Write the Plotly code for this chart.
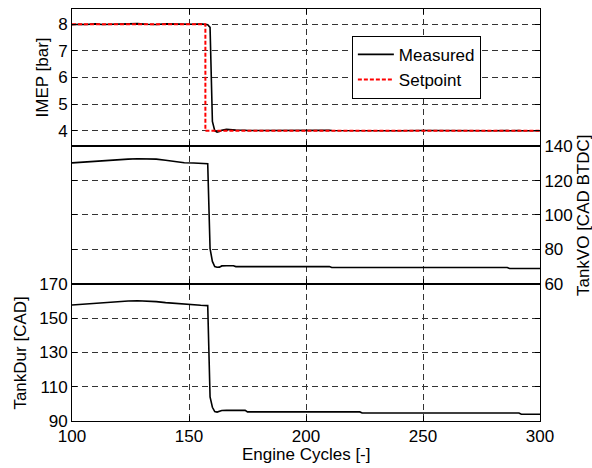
import plotly.graph_objects as go

# ---------------- data ----------------
cycles = [100, 103, 106, 110, 113, 116, 120, 124, 128, 132, 136, 140, 144, 148, 152, 155,
          158, 159, 160, 161, 162, 163, 164, 166, 169, 170, 174, 175, 180, 190, 200, 210,
          211, 220, 223, 224, 230, 240, 250, 260, 270, 280, 286, 287, 291, 292, 300]

imep_measured = [7.98, 8.00, 7.99, 8.01, 7.99, 8.00, 8.01, 8.00, 8.02, 8.00, 7.99, 8.01, 8.00, 7.99, 8.00, 8.01,
                 7.98, 7.88, 4.35, 4.00, 3.95, 3.97, 4.02, 4.05, 4.05, 4.03, 4.02, 4.01, 4.01, 4.02, 4.01, 4.02,
                 4.01, 4.00, 4.01, 4.00, 4.01, 4.00, 4.01, 4.00, 4.01, 4.00, 4.01, 4.00, 4.01, 4.00, 4.00]

setpoint_cycles = [100, 157, 300]
imep_setpoint = [8, 4, 4]

tank_vo = [130.3, 130.6, 131.0, 131.5, 131.8, 132.0, 132.3, 132.5, 132.7, 132.8, 132.5, 131.8, 131.0, 130.4, 130.2, 130.0,
           129.8, 80.5, 73.0, 70.0, 69.6, 69.7, 70.4, 70.5, 70.5, 70.0, 70.0, 70.0, 70.0, 70.0, 70.0, 70.0,
           69.5, 69.5, 69.5, 69.5, 69.5, 69.5, 69.5, 69.5, 69.5, 69.5, 69.5, 68.9, 68.9, 68.9, 68.9]

tank_dur = [157.6, 157.9, 158.3, 158.9, 159.3, 159.6, 159.9, 160.0, 160.1, 160.0, 159.6, 159.0, 158.5, 158.1, 157.8, 157.5,
            157.3, 104.0, 98.0, 95.5, 95.2, 95.6, 96.1, 96.2, 96.2, 96.2, 96.2, 95.3, 95.3, 95.3, 95.3, 95.3,
            95.3, 95.3, 95.3, 94.7, 94.7, 94.7, 94.7, 94.7, 94.7, 94.7, 94.7, 94.7, 94.7, 93.9, 93.9]

x_ticks = [100, 150, 200, 250, 300]
imep_ticks = [4, 5, 6, 7, 8]
vo_ticks = [60, 80, 100, 120, 140]
dur_ticks = [90, 110, 130, 150, 170]

# ---------------- figure ----------------
FONT = "Liberation Sans, Arial, sans-serif"
FS = 17

fig = go.Figure()

fig.add_trace(go.Scatter(x=cycles, y=imep_measured, mode="lines", name="Measured",
                         line=dict(color="black", width=1.6), xaxis="x", yaxis="y"))
fig.add_trace(go.Scatter(x=setpoint_cycles, y=imep_setpoint, mode="lines", name="Setpoint",
                         line=dict(color="#ff0000", width=2, dash="4px,2px", shape="hv"),
                         xaxis="x", yaxis="y"))
fig.add_trace(go.Scatter(x=cycles, y=tank_vo, mode="lines", showlegend=False,
                         line=dict(color="black", width=1.6), xaxis="x2", yaxis="y2"))
fig.add_trace(go.Scatter(x=cycles, y=tank_dur, mode="lines", showlegend=False,
                         line=dict(color="black", width=1.6), xaxis="x3", yaxis="y3"))

common_axis = dict(
    showline=True, linecolor="black", linewidth=1, mirror="ticks",
    ticks="inside", ticklen=5, tickwidth=1, tickcolor="black",
    showgrid=True, gridcolor="#333333", gridwidth=1, griddash="6px,4px",
    zeroline=False, automargin=False,
    tickfont=dict(family=FONT, size=FS, color="black"),
)

def xax(anchor, labels):
    d = dict(common_axis)
    d.update(range=[100, 300], tickvals=x_ticks, anchor=anchor, showticklabels=labels)
    return d

def yax(domain, rng, ticks, side):
    d = dict(common_axis)
    d.update(domain=domain, range=rng, tickvals=ticks, side=side)
    return d

fig.update_layout(
    template="none",
    width=592, height=468,
    margin=dict(l=72, r=52, t=9, b=47, pad=0),
    paper_bgcolor="white", plot_bgcolor="white",
    font=dict(family=FONT, size=FS, color="black"),
    xaxis=xax("y", False),
    xaxis2=xax("y2", False),
    xaxis3=xax("y3", True),
    yaxis=yax([0.667, 1.0], [3.42, 8.57], imep_ticks, "left"),
    yaxis2=yax([0.333, 0.667], [60, 140], vo_ticks, "right"),
    yaxis3=yax([0.0, 0.333], [90, 170], dur_ticks, "left"),
    showlegend=True,
    legend=dict(x=0.598, y=0.935, xanchor="left", yanchor="top",
                bgcolor="white", bordercolor="black", borderwidth=1,
                font=dict(family=FONT, size=FS, color="black"),
                itemwidth=36, tracegroupgap=0),
    annotations=[
        dict(text="IMEP [bar]", x=-0.064, y=0.834, xref="paper", yref="paper",
             textangle=-90, showarrow=False, xanchor="center", yanchor="middle",
             font=dict(family=FONT, size=FS)),
        dict(text="TankVO [CAD BTDC]", x=1.092, y=0.5, xref="paper", yref="paper",
             textangle=-90, showarrow=False, xanchor="center", yanchor="middle",
             font=dict(family=FONT, size=FS)),
        dict(text="TankDur [CAD]", x=-0.109, y=0.166, xref="paper", yref="paper",
             textangle=-90, showarrow=False, xanchor="center", yanchor="middle",
             font=dict(family=FONT, size=FS)),
        dict(text="Engine Cycles [-]", x=0.5, y=-0.082, xref="paper", yref="paper",
             showarrow=False, xanchor="center", yanchor="middle",
             font=dict(family=FONT, size=FS)),
    ],
)

fig.write_html("out.html", config={"displayModeBar": False},
               post_script="document.body.style.margin='0px';")
